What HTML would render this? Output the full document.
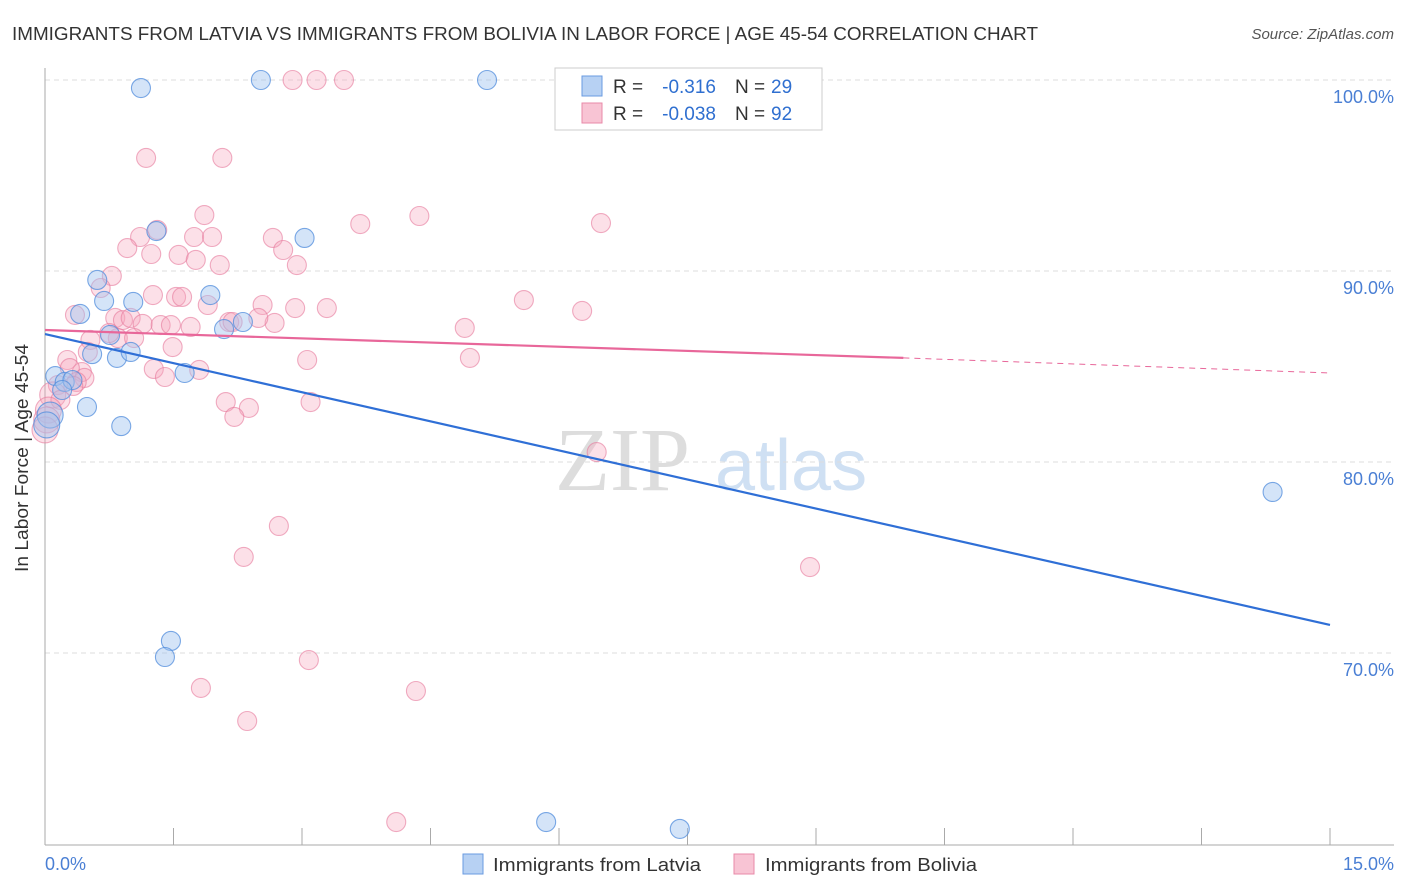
<!DOCTYPE html>
<html><head><meta charset="utf-8"><style>
body{margin:0;background:#fff;font-family:"Liberation Sans",sans-serif;}
svg{display:block}
</style></head><body>
<svg id="c" width="1406" height="892">
<text x="12" y="40" font-size="18" fill="#333" textLength="1026" lengthAdjust="spacingAndGlyphs">IMMIGRANTS FROM LATVIA VS IMMIGRANTS FROM BOLIVIA IN LABOR FORCE | AGE 45-54 CORRELATION CHART</text>
<text x="1394" y="39" font-size="15" fill="#555" font-style="italic" text-anchor="end">Source: ZipAtlas.com</text>
<text x="555" y="490" font-size="90" fill="#ddd" font-family="Liberation Serif">ZIP</text>
<text x="715" y="490" font-size="72" fill="#cfe0f3">atlas</text>
<g id="grid"></g><g id="axes"></g><g id="pts"></g><g id="trend"></g>
<text x="28" y="458" font-size="18" fill="#333" text-anchor="middle" transform="rotate(-90 28 458)" textLength="228" lengthAdjust="spacingAndGlyphs">In Labor Force | Age 45-54</text>
<text x="45" y="870" font-size="18" fill="#4a7fd4">0.0%</text>
<text x="1394" y="870" font-size="18" fill="#4a7fd4" text-anchor="end">15.0%</text>
<g>
<rect x="555" y="68" width="267" height="62" fill="#fff" stroke="#ccc"/>
<rect x="582" y="76" width="20" height="20" fill="#b7d1f3" stroke="#6a9be0"/>
<rect x="582" y="103" width="20" height="20" fill="#f8c4d4" stroke="#e88aa8"/>
<text x="613" y="93" font-size="19" fill="#333">R =</text>
<text x="716" y="93" font-size="19" fill="#2f6fd0" text-anchor="end">-0.316</text>
<text x="735" y="93" font-size="19" fill="#333">N =</text>
<text x="771" y="93" font-size="19" fill="#2f6fd0">29</text>
<text x="613" y="120" font-size="19" fill="#333">R =</text>
<text x="716" y="120" font-size="19" fill="#2f6fd0" text-anchor="end">-0.038</text>
<text x="735" y="120" font-size="19" fill="#333">N =</text>
<text x="771" y="120" font-size="19" fill="#2f6fd0">92</text>
</g>
<g>
<rect x="463" y="854" width="20" height="20" fill="#b7d1f3" stroke="#6a9be0"/>
<text x="493" y="871" font-size="18" fill="#333" textLength="208" lengthAdjust="spacingAndGlyphs">Immigrants from Latvia</text>
<rect x="734" y="854" width="20" height="20" fill="#f8c4d4" stroke="#e88aa8"/>
<text x="765" y="871" font-size="18" fill="#333" textLength="212" lengthAdjust="spacingAndGlyphs">Immigrants from Bolivia</text>
</g>
</svg>
<script>
const yTicks=[100,90,80,70];
const xTicks=[0,1.5,3,4.5,6,7.5,9,10.5,12,13.5,15];
const latviaX=[1.12,2.52,5.16,1.30,3.03,0.61,1.93,0.69,1.03,0.41,2.31,2.09,0.76,0.55,0.84,1.00,1.63,0.12,0.23,0.32,0.20,0.49,0.89,0.06,0.02,1.47,1.40,5.85,7.41,14.33];
const latviaY=[99.58,100,100,92.09,91.73,89.53,88.74,88.43,88.38,87.75,87.33,86.96,86.65,85.65,85.45,85.76,84.66,84.50,84.19,84.29,83.77,82.88,81.88,82.46,81.94,70.63,69.79,61.15,60.79,78.43];
const boliviaX=[2.89,3.17,3.49,1.18,2.07,1.86,4.37,6.49,3.68,1.31,1.11,1.74,1.95,2.66,0.96,2.78,1.24,1.56,1.76,2.04,2.94,0.78,0.65,1.26,1.53,1.60,2.54,1.90,2.92,3.29,5.59,6.27,0.35,0.82,0.91,1.00,1.14,1.35,1.47,2.15,2.19,2.68,2.49,1.70,4.90,0.85,0.53,1.04,0.75,1.49,0.50,3.06,4.96,0.26,1.27,1.40,1.80,0.43,0.29,0.46,0.37,0.33,0.15,0.09,0.18,0.04,0.02,0.0,2.11,2.38,2.21,3.10,6.44,2.73,2.32,8.93,3.08,1.82,4.33,2.36,4.10];
const boliviaY=[100,100,100,95.92,95.92,92.93,92.88,92.51,92.46,92.15,91.78,91.78,91.78,91.73,91.20,91.10,90.89,90.84,90.58,90.31,90.31,89.74,89.11,88.74,88.64,88.64,88.22,88.22,88.06,88.06,88.48,87.91,87.70,87.54,87.43,87.54,87.23,87.17,87.17,87.33,87.33,87.28,87.54,87.07,87.02,86.49,86.39,86.49,86.75,86.02,85.76,85.34,85.45,85.34,84.87,84.45,84.82,84.71,84.92,84.40,84.19,83.98,84.03,83.51,83.25,82.72,82.20,81.68,83.14,82.83,82.36,83.14,80.52,76.65,75.03,74.50,69.63,68.17,68.01,66.44,61.15];
const latviaTrend=[86.70,71.47];
const boliviaTrend=[86.91,85.45,84.66];
const boliviaTrendX=[0,10.02,15];
const NS="http://www.w3.org/2000/svg";
const sx=v=>45+v*(1285/15);
const sy=v=>80+(100-v)*19.1;
function mk(parent,tag,attrs){const e=document.createElementNS(NS,tag);for(const k in attrs)e.setAttribute(k,attrs[k]);document.getElementById(parent).appendChild(e);return e;}
yTicks.forEach(t=>{
 const l=mk('grid','line',{x1:45,x2:1394,y1:sy(t),y2:sy(t),stroke:'#ddd','stroke-dasharray':'5,4'});
 
 
 const tx=mk('grid','text',{x:1394,y:sy(t)+23,'font-size':18,fill:'#4a7fd4','text-anchor':'end'});
 tx.textContent=t.toFixed(1)+'%';
 
 
});
const ya=mk('axes','line',{x1:45,x2:45,y1:68,y2:845,stroke:'#aaa'});


const xa=mk('axes','line',{x1:45,x2:1394,y1:845,y2:845,stroke:'#aaa'});


xTicks.forEach(t=>{
 const l=mk('axes','line',{x1:sx(t),x2:sx(t),y1:828,y2:845,stroke:'#aaa'});
 
 
});
function dots(X,Y,fill,stroke,name){
 X.forEach((x,i)=>{
  const r=x<0.1?13:9.5;
  const c=mk('pts','circle',{cx:sx(x),cy:sy(Y[i]),r:r,fill:fill,stroke:stroke,'stroke-width':1.1});
  
  
 });
}
dots(boliviaX,boliviaY,'rgba(245,165,190,0.35)','rgba(230,120,155,0.6)','bolivia-point');
dots(latviaX,latviaY,'rgba(160,196,240,0.45)','rgba(80,140,220,0.75)','latvia-point');
const lt=mk('trend','line',{x1:sx(0),y1:sy(latviaTrend[0]),x2:sx(15),y2:sy(latviaTrend[1]),stroke:'#2f6fd6','stroke-width':2.2});


const bt=mk('trend','line',{x1:sx(boliviaTrendX[0]),y1:sy(boliviaTrend[0]),x2:sx(boliviaTrendX[1]),y2:sy(boliviaTrend[1]),stroke:'#e8679a','stroke-width':2.2});


const bd=mk('trend','line',{x1:sx(boliviaTrendX[1]),y1:sy(boliviaTrend[1]),x2:sx(boliviaTrendX[2]),y2:sy(boliviaTrend[2]),stroke:'#e8679a','stroke-width':1,'stroke-dasharray':'6,5'});


</script>
</body></html>
